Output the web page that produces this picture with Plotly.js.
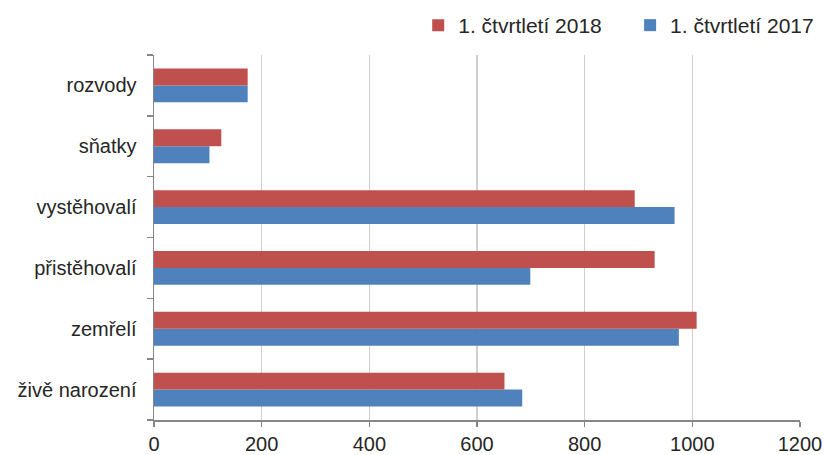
<!DOCTYPE html>
<html>
<head>
<meta charset="utf-8">
<script src="https://cdn.plot.ly/plotly-3.0.1.min.js"></script>
<style>html,body{margin:0;padding:0;background:#fff}#chart{width:825px;height:455px}</style>
</head>
<body>
<div id="chart"></div>
<script>
const categories = ["živě narození", "zemřelí", "přistěhovalí", "vystěhovalí", "sňatky", "rozvody"];
const series2017Name = "1. čtvrtletí 2017";
const series2018Name = "1. čtvrtletí 2018";
const values2017 = [684, 975, 699, 967, 103, 174];
const values2018 = [651, 1008, 930, 893, 125, 174];
const xTickValues = [0, 200, 400, 600, 800, 1000, 1200];

const traces = [
  {type: "bar", orientation: "h", name: series2017Name, y: categories, x: values2017,
   marker: {color: "#4F81BD"}, hoverinfo: "x+name", legend: "legend2"},
  {type: "bar", orientation: "h", name: series2018Name, y: categories, x: values2018,
   marker: {color: "#C0504D"}, hoverinfo: "x+name", legend: "legend"}
];

const legendFont = {family: "Liberation Sans, Arial, sans-serif", size: 21, color: "#262626"};
const layout = {
  width: 825, height: 455,
  margin: {l: 154, r: 25, t: 55, b: 35, autoexpand: false},
  paper_bgcolor: "#fff", plot_bgcolor: "#fff",
  font: {family: "Liberation Sans, Arial, sans-serif", size: 20, color: "#262626"},
  barmode: "group", bargap: 0.443, bargroupgap: 0,
  showlegend: true,
  legend: {orientation: "h", x: 0.409, xanchor: "left", y: 1.137, yanchor: "top",
           font: legendFont, itemwidth: 30, bgcolor: "rgba(0,0,0,0)"},
  legend2: {orientation: "h", x: 0.737, xanchor: "left", y: 1.137, yanchor: "top",
           font: legendFont, itemwidth: 30, bgcolor: "rgba(0,0,0,0)"},
  xaxis: {range: [0, 1200], tickvals: xTickValues, ticktext: xTickValues.map(String),
          showgrid: true, gridcolor: "#D0D0D0", gridwidth: 1.5, zeroline: false,
          showline: true, linecolor: "#868686", linewidth: 1.5,
          ticks: "outside", ticklen: 5, tickcolor: "#868686", tickwidth: 1.5,
          tickfont: {size: 20}, automargin: false, fixedrange: true},
  yaxis: {type: "category", categoryorder: "array", categoryarray: categories,
          showgrid: false, zeroline: false, showline: true, linecolor: "#868686", linewidth: 1.5,
          ticks: "outside", tickson: "boundaries", ticklen: 6, tickcolor: "#868686", tickwidth: 1.5,
          ticklabelstandoff: 12, tickfont: {size: 20}, automargin: false, fixedrange: true}
};

Plotly.newPlot("chart", traces, layout, {displayModeBar: false, staticPlot: true});
</script>
</body>
</html>
